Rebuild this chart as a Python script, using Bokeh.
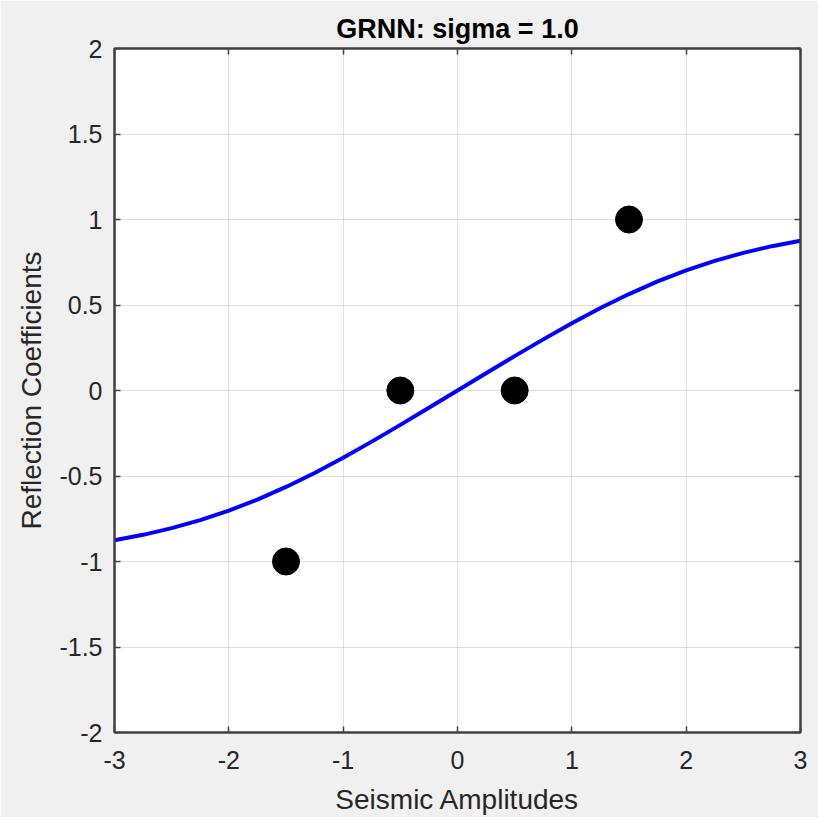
from bokeh.plotting import figure
from bokeh.models import LinearAxis, FixedTicker, CustomJSTickFormatter, Range1d
from bokeh.embed import file_html
from bokeh.resources import INLINE

# training samples
sample_x = [-1.5, -0.5, 0.5, 1.5]
sample_y = [-1.0, 0.0, 0.0, 1.0]

# GRNN output curve (sigma = 1.0)
curve_x = [-3.0, -2.75, -2.5, -2.25, -2.0, -1.75, -1.5, -1.25, -1.0, -0.75, -0.5, -0.25,
           0.0, 0.25, 0.5, 0.75, 1.0, 1.25, 1.5, 1.75, 2.0, 2.25, 2.5, 2.75, 3.0]
curve_y = [-0.876, -0.844, -0.805, -0.758, -0.702, -0.638, -0.564, -0.482, -0.393, -0.299, -0.201, -0.101,
           0.0, 0.101, 0.201, 0.299, 0.393, 0.482, 0.564, 0.638, 0.702, 0.758, 0.805, 0.844, 0.876]

x_ticks = [-3, -2, -1, 0, 1, 2, 3]
y_ticks = [-2, -1.5, -1, -0.5, 0, 0.5, 1, 1.5, 2]

FONT = "Liberation Sans"
TXT = "#262626"
AX = "#404040"

p = figure(width=818, height=817, output_backend="svg", toolbar_location=None,
           x_range=Range1d(-3, 3), y_range=Range1d(-2, 2),
           title="GRNN: sigma = 1.0",
           min_border_left=114, min_border_right=18, min_border_top=48, min_border_bottom=84)

p.background_fill_color = "white"
p.border_fill_color = "#f0f0f0"
p.outline_line_color = AX
p.outline_line_width = 2

p.title.align = "center"
p.title.text_font = FONT
p.title.text_font_size = "27px"
p.title.text_font_style = "bold"
p.title.text_color = "#000000"

plain = CustomJSTickFormatter(code="return String(tick)")

for ax in (p.xaxis[0], p.yaxis[0]):
    ax.formatter = plain
    ax.major_label_text_font = FONT
    ax.major_label_text_font_size = "25px"
    ax.major_label_text_color = TXT
    ax.axis_label_text_font = FONT
    ax.axis_label_text_font_size = "28px"
    ax.axis_label_text_font_style = "normal"
    ax.axis_label_text_color = TXT
    ax.major_tick_in = 6
    ax.major_tick_out = 0
    ax.minor_tick_line_color = None
    ax.major_tick_line_color = AX
    ax.major_tick_line_width = 1.5
    ax.axis_line_color = AX
    ax.axis_line_width = 2

p.xaxis[0].ticker = FixedTicker(ticks=x_ticks)
p.yaxis[0].ticker = FixedTicker(ticks=y_ticks)
p.xaxis[0].axis_label = "Seismic Amplitudes"
p.yaxis[0].axis_label = "Reflection Coefficients"
p.xaxis[0].major_label_standoff = 18
p.yaxis[0].major_label_standoff = 12
p.xaxis[0].axis_label_standoff = 12
p.yaxis[0].axis_label_standoff = 9

empty = CustomJSTickFormatter(code="return ''")
top = LinearAxis(ticker=FixedTicker(ticks=x_ticks), formatter=empty)
right = LinearAxis(ticker=FixedTicker(ticks=y_ticks), formatter=empty)
for ax in (top, right):
    ax.major_tick_in = 6
    ax.major_tick_out = 0
    ax.minor_tick_line_color = None
    ax.major_tick_line_color = AX
    ax.major_tick_line_width = 1.5
    ax.axis_line_color = AX
    ax.axis_line_width = 2
    ax.major_label_standoff = 0
    ax.major_label_text_font_size = "1px"
p.add_layout(top, "above")
p.add_layout(right, "right")

p.xgrid.ticker = FixedTicker(ticks=x_ticks)
p.ygrid.ticker = FixedTicker(ticks=y_ticks)
p.grid.grid_line_color = "#262626"
p.grid.grid_line_alpha = 0.15
p.grid.grid_line_width = 1

p.line(curve_x, curve_y, line_color="#0000ff", line_width=4)
p.scatter(sample_x, sample_y, size=27, fill_color="black", line_color="black")

open("out.html", "w").write(file_html(p, INLINE))
